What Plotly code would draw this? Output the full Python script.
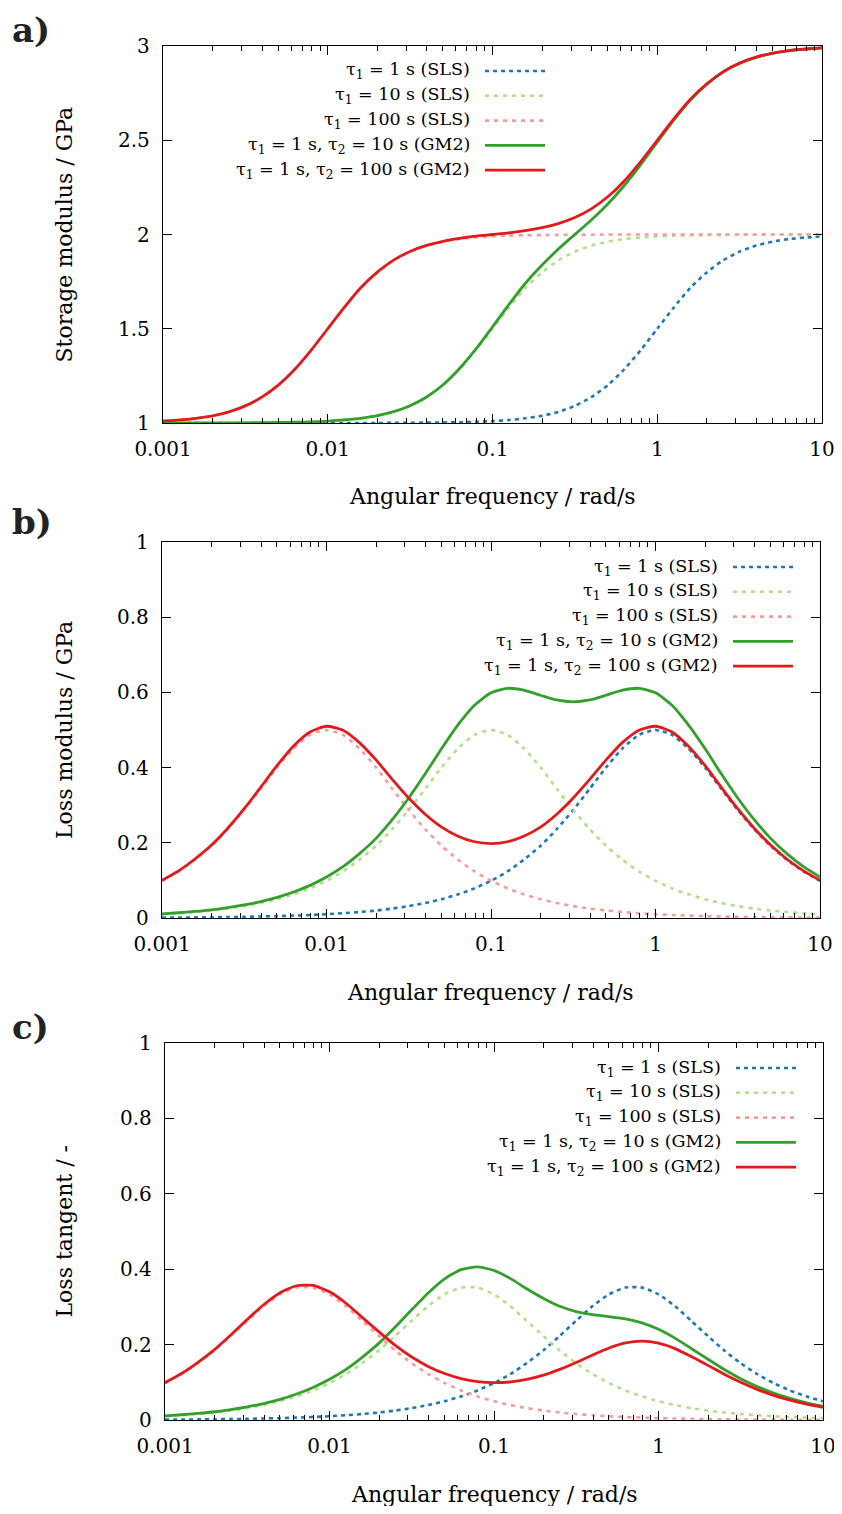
import plotly.graph_objects as go

# Angular frequency grid (rad/s), 10 points per decade
omega = [0.001, 0.00126, 0.00158, 0.002, 0.00251, 0.00316, 0.00398, 0.00501, 0.00631, 0.00794,
         0.01, 0.0126, 0.0158, 0.02, 0.0251, 0.0316, 0.0398, 0.0501, 0.0631, 0.0794,
         0.1, 0.126, 0.158, 0.2, 0.251, 0.316, 0.398, 0.501, 0.631, 0.794,
         1.0, 1.26, 1.58, 2.0, 2.51, 3.16, 3.98, 5.01, 6.31, 7.94, 10.0]

# a) Storage modulus / GPa
storage_sls1 = [1.000, 1.000, 1.000, 1.000, 1.000, 1.000, 1.000, 1.000, 1.000, 1.000,
                1.000, 1.000, 1.000, 1.000, 1.001, 1.001, 1.002, 1.003, 1.004, 1.006,
                1.010, 1.016, 1.025, 1.038, 1.059, 1.091, 1.137, 1.201, 1.285, 1.387,
                1.500, 1.613, 1.715, 1.799, 1.863, 1.909, 1.941, 1.962, 1.976, 1.984, 1.990]
storage_sls10 = [1.000, 1.000, 1.000, 1.000, 1.001, 1.001, 1.002, 1.003, 1.004, 1.006,
                 1.010, 1.016, 1.025, 1.038, 1.059, 1.091, 1.137, 1.201, 1.285, 1.387,
                 1.500, 1.613, 1.715, 1.799, 1.863, 1.909, 1.941, 1.962, 1.976, 1.984,
                 1.990, 1.994, 1.996, 1.997, 1.998, 1.999, 1.999, 2.000, 2.000, 2.000, 2.000]
storage_sls100 = [1.010, 1.016, 1.025, 1.038, 1.059, 1.091, 1.137, 1.201, 1.285, 1.387,
                  1.500, 1.613, 1.715, 1.799, 1.863, 1.909, 1.941, 1.962, 1.976, 1.984,
                  1.990, 1.994, 1.996, 1.997, 1.998, 1.999, 1.999, 2.000, 2.000, 2.000,
                  2.000, 2.000, 2.000, 2.000, 2.000, 2.000, 2.000, 2.000, 2.000, 2.000, 2.000]
storage_gm_1_10 = [1.000, 1.000, 1.000, 1.000, 1.001, 1.001, 1.002, 1.003, 1.004, 1.006,
                   1.010, 1.016, 1.025, 1.039, 1.060, 1.092, 1.138, 1.203, 1.289, 1.393,
                   1.510, 1.629, 1.740, 1.838, 1.923, 2.000, 2.077, 2.162, 2.260, 2.371,
                   2.490, 2.607, 2.711, 2.797, 2.862, 2.908, 2.940, 2.961, 2.975, 2.984, 2.990]
storage_gm_1_100 = [1.010, 1.016, 1.025, 1.038, 1.059, 1.091, 1.137, 1.201, 1.285, 1.387,
                    1.500, 1.613, 1.716, 1.800, 1.864, 1.910, 1.942, 1.964, 1.979, 1.991,
                    2.000, 2.009, 2.021, 2.036, 2.058, 2.090, 2.136, 2.200, 2.284, 2.387,
                    2.500, 2.613, 2.715, 2.799, 2.863, 2.909, 2.941, 2.962, 2.976, 2.984, 2.990]

# b) Loss modulus / GPa
loss_sls1 = [0.0010, 0.0013, 0.0016, 0.0020, 0.0025, 0.0032, 0.0040, 0.0050, 0.0063, 0.0079,
             0.0100, 0.0126, 0.0159, 0.0199, 0.0251, 0.0316, 0.0398, 0.0500, 0.0629, 0.0789,
             0.0990, 0.1239, 0.1546, 0.1919, 0.2363, 0.2875, 0.3436, 0.4006, 0.4513, 0.4870,
             0.5000, 0.4870, 0.4513, 0.4006, 0.3436, 0.2875, 0.2363, 0.1919, 0.1546, 0.1239, 0.0990]
loss_sls10 = [0.0100, 0.0126, 0.0159, 0.0199, 0.0251, 0.0316, 0.0398, 0.0500, 0.0629, 0.0789,
              0.0990, 0.1239, 0.1546, 0.1919, 0.2363, 0.2875, 0.3436, 0.4006, 0.4513, 0.4870,
              0.5000, 0.4870, 0.4513, 0.4006, 0.3436, 0.2875, 0.2363, 0.1919, 0.1546, 0.1239,
              0.0990, 0.0789, 0.0629, 0.0500, 0.0398, 0.0316, 0.0251, 0.0199, 0.0159, 0.0126, 0.0100]
loss_sls100 = [0.0990, 0.1239, 0.1546, 0.1919, 0.2363, 0.2875, 0.3436, 0.4006, 0.4513, 0.4870,
               0.5000, 0.4870, 0.4513, 0.4006, 0.3436, 0.2875, 0.2363, 0.1919, 0.1546, 0.1239,
               0.0990, 0.0789, 0.0629, 0.0500, 0.0398, 0.0316, 0.0251, 0.0199, 0.0159, 0.0126,
               0.0100, 0.0079, 0.0063, 0.0050, 0.0040, 0.0032, 0.0025, 0.0020, 0.0016, 0.0013, 0.0010]
loss_gm_1_10 = [0.0110, 0.0139, 0.0175, 0.0219, 0.0276, 0.0348, 0.0438, 0.0550, 0.0692, 0.0868,
                0.1090, 0.1365, 0.1705, 0.2118, 0.2614, 0.3191, 0.3834, 0.4506, 0.5142, 0.5659,
                0.5990, 0.6109, 0.6059, 0.5925, 0.5799, 0.5750, 0.5799, 0.5925, 0.6059, 0.6109,
                0.5990, 0.5659, 0.5142, 0.4506, 0.3834, 0.3191, 0.2614, 0.2118, 0.1705, 0.1365, 0.1090]
loss_gm_1_100 = [0.1000, 0.1252, 0.1562, 0.1939, 0.2388, 0.2907, 0.3476, 0.4056, 0.4576, 0.4949,
                 0.5100, 0.4996, 0.4672, 0.4205, 0.3687, 0.3191, 0.2761, 0.2419, 0.2175, 0.2028,
                 0.1980, 0.2028, 0.2175, 0.2419, 0.2761, 0.3191, 0.3687, 0.4205, 0.4672, 0.4996,
                 0.5100, 0.4949, 0.4576, 0.4056, 0.3476, 0.2907, 0.2388, 0.1939, 0.1562, 0.1252, 0.1000]

# c) Loss tangent / -
tan_sls1 = [0.0010, 0.0013, 0.0016, 0.0020, 0.0025, 0.0032, 0.0040, 0.0050, 0.0063, 0.0079,
            0.0100, 0.0126, 0.0158, 0.0199, 0.0251, 0.0316, 0.0397, 0.0499, 0.0626, 0.0784,
            0.0980, 0.1220, 0.1509, 0.1848, 0.2231, 0.2635, 0.3023, 0.3336, 0.3513, 0.3512,
            0.3333, 0.3019, 0.2631, 0.2226, 0.1844, 0.1506, 0.1218, 0.0978, 0.0783, 0.0625, 0.0498]
tan_sls10 = [0.0100, 0.0126, 0.0158, 0.0199, 0.0251, 0.0316, 0.0397, 0.0499, 0.0626, 0.0784,
             0.0980, 0.1220, 0.1509, 0.1848, 0.2231, 0.2635, 0.3023, 0.3336, 0.3513, 0.3512,
             0.3333, 0.3019, 0.2631, 0.2226, 0.1844, 0.1506, 0.1218, 0.0978, 0.0783, 0.0625,
             0.0498, 0.0396, 0.0315, 0.0250, 0.0199, 0.0158, 0.0126, 0.0100, 0.0079, 0.0063, 0.0050]
tan_sls100 = [0.0980, 0.1220, 0.1509, 0.1848, 0.2231, 0.2635, 0.3023, 0.3336, 0.3513, 0.3512,
              0.3333, 0.3019, 0.2631, 0.2226, 0.1844, 0.1506, 0.1218, 0.0978, 0.0783, 0.0625,
              0.0498, 0.0396, 0.0315, 0.0250, 0.0199, 0.0158, 0.0126, 0.0100, 0.0079, 0.0063,
              0.0050, 0.0040, 0.0032, 0.0025, 0.0020, 0.0016, 0.0013, 0.0010, 0.0008, 0.0006, 0.0005]
tan_gm_1_10 = [0.0110, 0.0139, 0.0175, 0.0219, 0.0276, 0.0348, 0.0437, 0.0548, 0.0689, 0.0863,
               0.1079, 0.1344, 0.1663, 0.2039, 0.2466, 0.2922, 0.3369, 0.3746, 0.3989, 0.4062,
               0.3967, 0.3750, 0.3482, 0.3224, 0.3016, 0.2875, 0.2792, 0.2741, 0.2681, 0.2577,
               0.2406, 0.2171, 0.1897, 0.1611, 0.1340, 0.1097, 0.0889, 0.0715, 0.0573, 0.0457, 0.0365]
tan_gm_1_100 = [0.0990, 0.1232, 0.1524, 0.1868, 0.2255, 0.2665, 0.3057, 0.3377, 0.3561, 0.3568,
                0.3400, 0.3097, 0.2723, 0.2336, 0.1978, 0.1671, 0.1422, 0.1232, 0.1099, 0.1019,
                0.0990, 0.1009, 0.1076, 0.1188, 0.1342, 0.1527, 0.1726, 0.1911, 0.2046, 0.2093,
                0.2040, 0.1894, 0.1685, 0.1449, 0.1214, 0.0999, 0.0812, 0.0655, 0.0525, 0.0420, 0.0334]

series_names = ["τ<sub>1</sub> = 1 s (SLS)",
                "τ<sub>1</sub> = 10 s (SLS)",
                "τ<sub>1</sub> = 100 s (SLS)",
                "τ<sub>1</sub> = 1 s, τ<sub>2</sub> = 10 s (GM2)",
                "τ<sub>1</sub> = 1 s, τ<sub>2</sub> = 100 s (GM2)"]
colors = ["#1f78b4", "#b2df8a", "#fb9a99", "#33a02c", "#e31a1c"]
dashes = ["4px,4px", "4px,5px", "4px,5px", "solid", "solid"]

x_ticks = [0.001, 0.01, 0.1, 1, 10]
x_ticklabels = ["0.001", "0.01", "0.1", "1", "10"]
x_minor = [m * d for d in [0.001, 0.01, 0.1, 1] for m in range(2, 10)]

OFF = 8                      # page body margin of the html page
W, H = 842 - OFF, 1514 - 2 * OFF
FONT = "DejaVu Serif"

panels = [
    dict(data=[storage_sls1, storage_sls10, storage_sls100, storage_gm_1_10, storage_gm_1_100],
         px=(163, 822), py=(46, 423), yr=[1, 3],
         yt=[1, 1.5, 2, 2.5, 3], ytl=["1", "1.5", "2", "2.5", "3"],
         ytitle="Storage modulus / GPa", label="a)", label_y=25,
         leg_x=472, leg_y0=71),
    dict(data=[loss_sls1, loss_sls10, loss_sls100, loss_gm_1_10, loss_gm_1_100],
         px=(162, 820), py=(542, 918), yr=[0, 1],
         yt=[0, 0.2, 0.4, 0.6, 0.8, 1], ytl=["0", "0.2", "0.4", "0.6", "0.8", "1"],
         ytitle="Loss modulus / GPa", label="b)", label_y=522,
         leg_x=720, leg_y0=567),
    dict(data=[tan_sls1, tan_sls10, tan_sls100, tan_gm_1_10, tan_gm_1_100],
         px=(165, 823), py=(1043, 1420), yr=[0, 1],
         yt=[0, 0.2, 0.4, 0.6, 0.8, 1], ytl=["0", "0.2", "0.4", "0.6", "0.8", "1"],
         ytitle="Loss tangent / -", label="c)", label_y=1027,
         leg_x=723, leg_y0=1068),
]

fig = go.Figure()
annotations = []
shapes = []

def fx(p):
    return (p - OFF) / W

def fy(p):
    return 1 - (p - OFF) / H

LABEL_SIZE = 34

for i, pn in enumerate(panels, start=1):
    xa = "x" if i == 1 else f"x{i}"
    ya = "y" if i == 1 else f"y{i}"
    for s, ys in enumerate(pn["data"]):
        fig.add_trace(go.Scatter(
            x=omega, y=ys, mode="lines", xaxis=xa, yaxis=ya,
            line=dict(color=colors[s], width=2.6 if s < 3 else 2.8, dash=dashes[s],
                      shape="spline", smoothing=0.6),
            showlegend=False, hoverinfo="skip"))
    axis_common = dict(showline=True, linecolor="black", linewidth=1.3, mirror="allticks",
                       ticks="inside", tickcolor="black", tickwidth=1.2,
                       showgrid=False, zeroline=False, automargin=False,
                       ticklabeloverflow="allow",
                       tickfont=dict(family=FONT, size=20, color="black"))
    x0, x1 = pn["px"]
    y0, y1 = pn["py"]
    fig.layout[f"xaxis{'' if i == 1 else i}"] = dict(
        axis_common, type="log", range=[-3, 1], domain=[fx(x0), fx(x1)],
        anchor=ya, tickvals=x_ticks, ticktext=x_ticklabels, ticklen=9,
        ticklabelstandoff=8,
        minor=dict(tickmode="array", tickvals=x_minor, ticks="inside", ticklen=5,
                   tickcolor="black", tickwidth=1.0, showgrid=False))
    fig.layout[f"yaxis{'' if i == 1 else i}"] = dict(
        axis_common, range=pn["yr"], domain=[fy(y1), fy(y0)], anchor=xa,
        tickvals=pn["yt"], ticktext=pn["ytl"], ticklen=9, ticklabelstandoff=8)

    # axis titles
    annotations.append(dict(xref="paper", yref="paper", x=fx((x0 + x1) / 2), y=fy(y1 + 74),
                            text="Angular frequency / rad/s", showarrow=False,
                            xanchor="center", yanchor="middle",
                            font=dict(family=FONT, size=22, color="black")))
    annotations.append(dict(xref="paper", yref="paper", x=fx(64), y=fy((y0 + y1) / 2),
                            text=pn["ytitle"], showarrow=False, textangle=-90,
                            xanchor="center", yanchor="middle",
                            font=dict(family=FONT, size=22, color="black")))
    # panel label (kept fully inside the figure)
    top_px = max(pn["label_y"] - 0.65 * LABEL_SIZE, OFF)
    annotations.append(dict(xref="paper", yref="paper", x=fx(10), y=fy(top_px),
                            text=f"<b>{pn['label']}</b>", showarrow=False,
                            xanchor="left", yanchor="top",
                            font=dict(family=FONT, size=LABEL_SIZE, color="#222222")))
    # legend (text right-aligned, sample to the right)
    for s in range(5):
        ly = pn["leg_y0"] + s * 24.8
        annotations.append(dict(xref="paper", yref="paper", x=fx(pn["leg_x"]), y=fy(ly),
                                text=series_names[s], showarrow=False,
                                xanchor="right", yanchor="middle",
                                font=dict(family=FONT, size=17.5, color="black")))
        shapes.append(dict(type="line", xref="paper", yref="paper",
                           x0=fx(pn["leg_x"] + 13), x1=fx(pn["leg_x"] + 73),
                           y0=fy(ly), y1=fy(ly),
                           line=dict(color=colors[s], width=2.6 if s < 3 else 2.8,
                                     dash=dashes[s])))

fig.update_layout(width=W, height=H, margin=dict(l=0, r=0, t=0, b=0),
                  paper_bgcolor="white", plot_bgcolor="white",
                  annotations=annotations, shapes=shapes, showlegend=False)

fig.write_html("out.html")
